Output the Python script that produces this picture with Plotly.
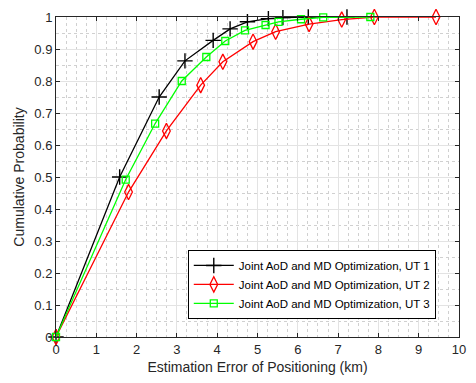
import plotly.graph_objects as go

ut1_x = [0, 1.58, 2.56, 3.2, 3.9, 4.32, 4.75, 5.27, 5.63, 6.26, 7.22]
ut1_y = [0, 0.5, 0.75, 0.863, 0.927, 0.963, 0.985, 0.995, 0.998, 1.0, 1.0]

ut2_x = [0, 1.80, 2.74, 3.59, 4.14, 4.89, 5.45, 6.28, 7.09, 7.9, 9.43]
ut2_y = [0, 0.453, 0.644, 0.787, 0.86, 0.923, 0.954, 0.978, 0.992, 1.0, 1.0]

ut3_x = [0, 1.73, 2.46, 3.12, 3.73, 4.2, 4.69, 5.2, 5.52, 6.08, 6.63, 7.8]
ut3_y = [0, 0.492, 0.667, 0.80, 0.875, 0.925, 0.958, 0.975, 0.985, 0.993, 0.999, 1.0]

names = ["Joint AoD and MD Optimization, UT 1",
         "Joint AoD and MD Optimization, UT 2",
         "Joint AoD and MD Optimization, UT 3"]

x_ticks = list(range(0, 11))
y_ticks = [round(0.1 * i, 1) for i in range(11)]
y_tick_text = ["0", "0.1", "0.2", "0.3", "0.4", "0.5", "0.6", "0.7", "0.8", "0.9", "1"]

FONT = "Liberation Sans, Arial"

fig = go.Figure()
fig.add_trace(go.Scatter(x=ut1_x, y=ut1_y, mode="lines+markers", name=names[0], cliponaxis=False,
                         line=dict(color="black", width=1.3),
                         marker=dict(symbol="cross-thin", size=11, line=dict(color="black", width=1.4))))
fig.add_trace(go.Scatter(x=ut2_x, y=ut2_y, mode="lines+markers", name=names[1], cliponaxis=False,
                         line=dict(color="#ff0000", width=1.3),
                         marker=dict(symbol="diamond-tall-open", size=11, color="#ff0000", line=dict(width=1.3))))
fig.add_trace(go.Scatter(x=ut3_x, y=ut3_y, mode="lines+markers", name=names[2], cliponaxis=False,
                         line=dict(color="#00ff00", width=1.3),
                         marker=dict(symbol="square-open", size=7, color="#00ff00", line=dict(width=1.3))))

axis_common = dict(showline=True, linecolor="#262626", linewidth=1, mirror="ticks",
                   ticks="inside", ticklen=4, tickcolor="#262626",
                   showgrid=True, gridcolor="#e3e3e3", gridwidth=1, zeroline=False,
                   tickfont=dict(family=FONT, size=13, color="#262626"))

fig.update_xaxes(range=[0, 10], tickvals=x_ticks,
                 title=dict(text="Estimation Error of Positioning (km)",
                            font=dict(family=FONT, size=14, color="#262626"),
                            standoff=6),
                 minor=dict(dtick=0.25, showgrid=True, gridcolor="#d0d0d0", griddash="dot", gridwidth=1),
                 **axis_common)
fig.update_yaxes(range=[0, 1], tickvals=y_ticks, ticktext=y_tick_text,
                 title=dict(text="Cumulative Probability",
                            font=dict(family=FONT, size=14, color="#262626"),
                            standoff=6),
                 minor=dict(dtick=0.05, showgrid=True, gridcolor="#d0d0d0", griddash="dot", gridwidth=1),
                 **axis_common)

fig.update_layout(width=476, height=383, plot_bgcolor="white", paper_bgcolor="white",
                  margin=dict(l=56, r=10, t=14, b=46),
                  legend=dict(x=0.327, y=0.272, xanchor="left", yanchor="top",
                              bgcolor="white", bordercolor="black", borderwidth=1,
                              font=dict(family=FONT, size=11.5, color="black"),
                              tracegroupgap=0, itemwidth=40),
                  showlegend=True)

fig.write_html("out.html")
